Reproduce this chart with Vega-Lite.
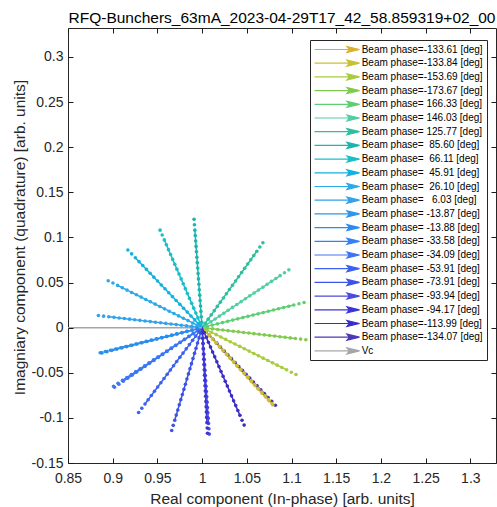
{
"$schema": "https://vega.github.io/schema/vega-lite/v6.json",
"autosize": {"type": "none"},
"padding": {"left": 68, "top": 28, "right": 1, "bottom": 44},
"width": 428,
"height": 435,
"title": {"text": "RFQ-Bunchers_63mA_2023-04-29T17_42_58.859319+02_00", "fontSize": 15.5, "fontWeight": "normal", "font": "Liberation Sans", "color": "black", "anchor": "middle", "offset": 1.5},
"datasets": {
"lab": [
{"s":"A","label":"Beam phase=-133.61 [deg]"},
{"s":"B","label":"Beam phase=-133.84 [deg]"},
{"s":"C","label":"Beam phase=-153.69 [deg]"},
{"s":"D","label":"Beam phase=-173.67 [deg]"},
{"s":"E","label":"Beam phase= 166.33 [deg]"},
{"s":"F","label":"Beam phase= 146.03 [deg]"},
{"s":"G","label":"Beam phase= 125.77 [deg]"},
{"s":"H","label":"Beam phase=\u00a0 85.60 [deg]"},
{"s":"I","label":"Beam phase=\u00a0 66.11 [deg]"},
{"s":"J","label":"Beam phase=\u00a0 45.91 [deg]"},
{"s":"K","label":"Beam phase=\u00a0 26.10 [deg]"},
{"s":"L","label":"Beam phase=\u00a0\u00a0 6.03 [deg]"},
{"s":"M","label":"Beam phase= -13.87 [deg]"},
{"s":"N","label":"Beam phase= -13.88 [deg]"},
{"s":"O","label":"Beam phase= -33.58 [deg]"},
{"s":"P","label":"Beam phase= -34.09 [deg]"},
{"s":"Q","label":"Beam phase= -53.91 [deg]"},
{"s":"R","label":"Beam phase= -73.91 [deg]"},
{"s":"S","label":"Beam phase= -93.94 [deg]"},
{"s":"T","label":"Beam phase= -94.17 [deg]"},
{"s":"U","label":"Beam phase=-113.99 [deg]"},
{"s":"V","label":"Beam phase=-134.07 [deg]"},
{"s":"W","label":"Vc"}
],
"pts": [
{"s":"V","k":0,"x":1,"y":0},{"s":"V","k":1,"x":1.0041,"y":-0.0043},{"s":"V","k":2,"x":1.0082,"y":-0.0086},{"s":"V","k":3,"x":1.0123,"y":-0.0129},{"s":"V","k":4,"x":1.0164,"y":-0.0172},{"s":"V","k":5,"x":1.0205,"y":-0.0215},{"s":"V","k":6,"x":1.0246,"y":-0.0258},{"s":"V","k":7,"x":1.0287,"y":-0.0301},{"s":"V","k":8,"x":1.0328,"y":-0.0344},{"s":"V","k":9,"x":1.0369,"y":-0.0387},{"s":"V","k":10,"x":1.041,"y":-0.043},{"s":"V","k":11,"x":1.0451,"y":-0.0473},{"s":"V","k":12,"x":1.0492,"y":-0.0516},{"s":"V","k":13,"x":1.0533,"y":-0.0559},{"s":"V","k":14,"x":1.0574,"y":-0.0602},{"s":"V","k":15,"x":1.0615,"y":-0.0645},{"s":"V","k":16,"x":1.0656,"y":-0.0688},{"s":"V","k":17,"x":1.0697,"y":-0.0731},{"s":"V","k":18,"x":1.0738,"y":-0.0774},{"s":"V","k":19,"x":1.0779,"y":-0.0817},{"s":"V","k":20,"x":1.082,"y":-0.086},
{"s":"A","k":0,"x":1,"y":0},{"s":"A","k":1,"x":1.00395,"y":-0.00427},{"s":"A","k":2,"x":1.0079,"y":-0.00854},{"s":"A","k":3,"x":1.01185,"y":-0.01281},{"s":"A","k":4,"x":1.0158,"y":-0.01708},{"s":"A","k":5,"x":1.01975,"y":-0.02135},{"s":"A","k":6,"x":1.0237,"y":-0.02562},{"s":"A","k":7,"x":1.02765,"y":-0.02989},{"s":"A","k":8,"x":1.0316,"y":-0.03416},{"s":"A","k":9,"x":1.03555,"y":-0.03843},{"s":"A","k":10,"x":1.0395,"y":-0.0427},{"s":"A","k":11,"x":1.04345,"y":-0.04697},{"s":"A","k":12,"x":1.0474,"y":-0.05124},{"s":"A","k":13,"x":1.05135,"y":-0.05551},{"s":"A","k":14,"x":1.0553,"y":-0.05978},{"s":"A","k":15,"x":1.05925,"y":-0.06405},{"s":"A","k":16,"x":1.0632,"y":-0.06832},{"s":"A","k":17,"x":1.06715,"y":-0.07259},{"s":"A","k":18,"x":1.0711,"y":-0.07686},{"s":"A","k":19,"x":1.07505,"y":-0.08113},{"s":"A","k":20,"x":1.079,"y":-0.0854},
{"s":"B","k":0,"x":1,"y":0},{"s":"B","k":1,"x":1.0039,"y":-0.0042},{"s":"B","k":2,"x":1.0078,"y":-0.0084},{"s":"B","k":3,"x":1.0117,"y":-0.0126},{"s":"B","k":4,"x":1.0156,"y":-0.0168},{"s":"B","k":5,"x":1.0195,"y":-0.021},{"s":"B","k":6,"x":1.0234,"y":-0.0252},{"s":"B","k":7,"x":1.0273,"y":-0.0294},{"s":"B","k":8,"x":1.0312,"y":-0.0336},{"s":"B","k":9,"x":1.0351,"y":-0.0378},{"s":"B","k":10,"x":1.039,"y":-0.042},{"s":"B","k":11,"x":1.0429,"y":-0.0462},{"s":"B","k":12,"x":1.0468,"y":-0.0504},{"s":"B","k":13,"x":1.0507,"y":-0.0546},{"s":"B","k":14,"x":1.0546,"y":-0.0588},{"s":"B","k":15,"x":1.0585,"y":-0.063},{"s":"B","k":16,"x":1.0624,"y":-0.0672},{"s":"B","k":17,"x":1.0663,"y":-0.0714},{"s":"B","k":18,"x":1.0702,"y":-0.0756},{"s":"B","k":19,"x":1.0741,"y":-0.0798},{"s":"B","k":20,"x":1.078,"y":-0.084},
{"s":"C","k":0,"x":1,"y":0},{"s":"C","k":1,"x":1.00525,"y":-0.0026},{"s":"C","k":2,"x":1.0105,"y":-0.0052},{"s":"C","k":3,"x":1.01575,"y":-0.0078},{"s":"C","k":4,"x":1.021,"y":-0.0104},{"s":"C","k":5,"x":1.02625,"y":-0.013},{"s":"C","k":6,"x":1.0315,"y":-0.0156},{"s":"C","k":7,"x":1.03675,"y":-0.0182},{"s":"C","k":8,"x":1.042,"y":-0.0208},{"s":"C","k":9,"x":1.04725,"y":-0.0234},{"s":"C","k":10,"x":1.0525,"y":-0.026},{"s":"C","k":11,"x":1.05775,"y":-0.0286},{"s":"C","k":12,"x":1.063,"y":-0.0312},{"s":"C","k":13,"x":1.06825,"y":-0.0338},{"s":"C","k":14,"x":1.0735,"y":-0.0364},{"s":"C","k":15,"x":1.07875,"y":-0.039},{"s":"C","k":16,"x":1.084,"y":-0.0416},{"s":"C","k":17,"x":1.08925,"y":-0.0442},{"s":"C","k":18,"x":1.0945,"y":-0.0468},{"s":"C","k":19,"x":1.09975,"y":-0.0494},{"s":"C","k":20,"x":1.105,"y":-0.052},
{"s":"D","k":0,"x":1,"y":0},{"s":"D","k":1,"x":1.0058,"y":-0.00067},{"s":"D","k":2,"x":1.0116,"y":-0.00134},{"s":"D","k":3,"x":1.0174,"y":-0.00201},{"s":"D","k":4,"x":1.0232,"y":-0.00268},{"s":"D","k":5,"x":1.029,"y":-0.00335},{"s":"D","k":6,"x":1.0348,"y":-0.00402},{"s":"D","k":7,"x":1.0406,"y":-0.00469},{"s":"D","k":8,"x":1.0464,"y":-0.00536},{"s":"D","k":9,"x":1.0522,"y":-0.00603},{"s":"D","k":10,"x":1.058,"y":-0.0067},{"s":"D","k":11,"x":1.0638,"y":-0.00737},{"s":"D","k":12,"x":1.0696,"y":-0.00804},{"s":"D","k":13,"x":1.0754,"y":-0.00871},{"s":"D","k":14,"x":1.0812,"y":-0.00938},{"s":"D","k":15,"x":1.087,"y":-0.01005},{"s":"D","k":16,"x":1.0928,"y":-0.01072},{"s":"D","k":17,"x":1.0986,"y":-0.01139},{"s":"D","k":18,"x":1.1044,"y":-0.01206},{"s":"D","k":19,"x":1.1102,"y":-0.01273},{"s":"D","k":20,"x":1.116,"y":-0.0134},
{"s":"E","k":0,"x":1,"y":0},{"s":"E","k":1,"x":1.0057,"y":0.00139},{"s":"E","k":2,"x":1.0114,"y":0.00278},{"s":"E","k":3,"x":1.0171,"y":0.00417},{"s":"E","k":4,"x":1.0228,"y":0.00556},{"s":"E","k":5,"x":1.0285,"y":0.00695},{"s":"E","k":6,"x":1.0342,"y":0.00834},{"s":"E","k":7,"x":1.0399,"y":0.00973},{"s":"E","k":8,"x":1.0456,"y":0.01112},{"s":"E","k":9,"x":1.0513,"y":0.01251},{"s":"E","k":10,"x":1.057,"y":0.0139},{"s":"E","k":11,"x":1.0627,"y":0.01529},{"s":"E","k":12,"x":1.0684,"y":0.01668},{"s":"E","k":13,"x":1.0741,"y":0.01807},{"s":"E","k":14,"x":1.0798,"y":0.01946},{"s":"E","k":15,"x":1.0855,"y":0.02085},{"s":"E","k":16,"x":1.0912,"y":0.02224},{"s":"E","k":17,"x":1.0969,"y":0.02363},{"s":"E","k":18,"x":1.1026,"y":0.02502},{"s":"E","k":19,"x":1.1083,"y":0.02641},{"s":"E","k":20,"x":1.114,"y":0.0278},
{"s":"F","k":0,"x":1,"y":0},{"s":"F","k":1,"x":1.00485,"y":0.0032},{"s":"F","k":2,"x":1.0097,"y":0.0064},{"s":"F","k":3,"x":1.01455,"y":0.0096},{"s":"F","k":4,"x":1.0194,"y":0.0128},{"s":"F","k":5,"x":1.02425,"y":0.016},{"s":"F","k":6,"x":1.0291,"y":0.0192},{"s":"F","k":7,"x":1.03395,"y":0.0224},{"s":"F","k":8,"x":1.0388,"y":0.0256},{"s":"F","k":9,"x":1.04365,"y":0.0288},{"s":"F","k":10,"x":1.0485,"y":0.032},{"s":"F","k":11,"x":1.05335,"y":0.0352},{"s":"F","k":12,"x":1.0582,"y":0.0384},{"s":"F","k":13,"x":1.06305,"y":0.0416},{"s":"F","k":14,"x":1.0679,"y":0.0448},{"s":"F","k":15,"x":1.07275,"y":0.048},{"s":"F","k":16,"x":1.0776,"y":0.0512},{"s":"F","k":17,"x":1.08245,"y":0.0544},{"s":"F","k":18,"x":1.0873,"y":0.0576},{"s":"F","k":19,"x":1.09215,"y":0.0608},{"s":"F","k":20,"x":1.097,"y":0.064},
{"s":"G","k":0,"x":1,"y":0},{"s":"G","k":1,"x":1.0034,"y":0.0047},{"s":"G","k":2,"x":1.0068,"y":0.0094},{"s":"G","k":3,"x":1.0102,"y":0.0141},{"s":"G","k":4,"x":1.0136,"y":0.0188},{"s":"G","k":5,"x":1.017,"y":0.0235},{"s":"G","k":6,"x":1.0204,"y":0.0282},{"s":"G","k":7,"x":1.0238,"y":0.0329},{"s":"G","k":8,"x":1.0272,"y":0.0376},{"s":"G","k":9,"x":1.0306,"y":0.0423},{"s":"G","k":10,"x":1.034,"y":0.047},{"s":"G","k":11,"x":1.0374,"y":0.0517},{"s":"G","k":12,"x":1.0408,"y":0.0564},{"s":"G","k":13,"x":1.0442,"y":0.0611},{"s":"G","k":14,"x":1.0476,"y":0.0658},{"s":"G","k":15,"x":1.051,"y":0.0705},{"s":"G","k":16,"x":1.0544,"y":0.0752},{"s":"G","k":17,"x":1.0578,"y":0.0799},{"s":"G","k":18,"x":1.0612,"y":0.0846},{"s":"G","k":19,"x":1.0646,"y":0.0893},{"s":"G","k":20,"x":1.068,"y":0.094},
{"s":"H","k":0,"x":1,"y":0},{"s":"H","k":1,"x":0.99955,"y":0.006},{"s":"H","k":2,"x":0.9991,"y":0.012},{"s":"H","k":3,"x":0.99865,"y":0.018},{"s":"H","k":4,"x":0.9982,"y":0.024},{"s":"H","k":5,"x":0.99775,"y":0.03},{"s":"H","k":6,"x":0.9973,"y":0.036},{"s":"H","k":7,"x":0.99685,"y":0.042},{"s":"H","k":8,"x":0.9964,"y":0.048},{"s":"H","k":9,"x":0.99595,"y":0.054},{"s":"H","k":10,"x":0.9955,"y":0.06},{"s":"H","k":11,"x":0.99505,"y":0.066},{"s":"H","k":12,"x":0.9946,"y":0.072},{"s":"H","k":13,"x":0.99415,"y":0.078},{"s":"H","k":14,"x":0.9937,"y":0.084},{"s":"H","k":15,"x":0.99325,"y":0.09},{"s":"H","k":16,"x":0.9928,"y":0.096},{"s":"H","k":17,"x":0.99235,"y":0.102},{"s":"H","k":18,"x":0.9919,"y":0.108},{"s":"H","k":19,"x":0.99145,"y":0.114},{"s":"H","k":20,"x":0.991,"y":0.12},
{"s":"I","k":0,"x":1,"y":0},{"s":"I","k":1,"x":0.99765,"y":0.0054},{"s":"I","k":2,"x":0.9953,"y":0.0108},{"s":"I","k":3,"x":0.99295,"y":0.0162},{"s":"I","k":4,"x":0.9906,"y":0.0216},{"s":"I","k":5,"x":0.98825,"y":0.027},{"s":"I","k":6,"x":0.9859,"y":0.0324},{"s":"I","k":7,"x":0.98355,"y":0.0378},{"s":"I","k":8,"x":0.9812,"y":0.0432},{"s":"I","k":9,"x":0.97885,"y":0.0486},{"s":"I","k":10,"x":0.9765,"y":0.054},{"s":"I","k":11,"x":0.97415,"y":0.0594},{"s":"I","k":12,"x":0.9718,"y":0.0648},{"s":"I","k":13,"x":0.96945,"y":0.0702},{"s":"I","k":14,"x":0.9671,"y":0.0756},{"s":"I","k":15,"x":0.96475,"y":0.081},{"s":"I","k":16,"x":0.9624,"y":0.0864},{"s":"I","k":17,"x":0.96005,"y":0.0918},{"s":"I","k":18,"x":0.9577,"y":0.0972},{"s":"I","k":19,"x":0.95535,"y":0.1026},{"s":"I","k":20,"x":0.953,"y":0.108},
{"s":"J","k":0,"x":1,"y":0},{"s":"J","k":1,"x":0.99585,"y":0.0043},{"s":"J","k":2,"x":0.9917,"y":0.0086},{"s":"J","k":3,"x":0.98755,"y":0.0129},{"s":"J","k":4,"x":0.9834,"y":0.0172},{"s":"J","k":5,"x":0.97925,"y":0.0215},{"s":"J","k":6,"x":0.9751,"y":0.0258},{"s":"J","k":7,"x":0.97095,"y":0.0301},{"s":"J","k":8,"x":0.9668,"y":0.0344},{"s":"J","k":9,"x":0.96265,"y":0.0387},{"s":"J","k":10,"x":0.9585,"y":0.043},{"s":"J","k":11,"x":0.95435,"y":0.0473},{"s":"J","k":12,"x":0.9502,"y":0.0516},{"s":"J","k":13,"x":0.94605,"y":0.0559},{"s":"J","k":14,"x":0.9419,"y":0.0602},{"s":"J","k":15,"x":0.93775,"y":0.0645},{"s":"J","k":16,"x":0.9336,"y":0.0688},{"s":"J","k":17,"x":0.92945,"y":0.0731},{"s":"J","k":18,"x":0.9253,"y":0.0774},{"s":"J","k":19,"x":0.92115,"y":0.0817},{"s":"J","k":20,"x":0.917,"y":0.086},
{"s":"K","k":0,"x":1,"y":0},{"s":"K","k":1,"x":0.99475,"y":0.0026},{"s":"K","k":2,"x":0.9895,"y":0.0052},{"s":"K","k":3,"x":0.98425,"y":0.0078},{"s":"K","k":4,"x":0.979,"y":0.0104},{"s":"K","k":5,"x":0.97375,"y":0.013},{"s":"K","k":6,"x":0.9685,"y":0.0156},{"s":"K","k":7,"x":0.96325,"y":0.0182},{"s":"K","k":8,"x":0.958,"y":0.0208},{"s":"K","k":9,"x":0.95275,"y":0.0234},{"s":"K","k":10,"x":0.9475,"y":0.026},{"s":"K","k":11,"x":0.94225,"y":0.0286},{"s":"K","k":12,"x":0.937,"y":0.0312},{"s":"K","k":13,"x":0.93175,"y":0.0338},{"s":"K","k":14,"x":0.9265,"y":0.0364},{"s":"K","k":15,"x":0.92125,"y":0.039},{"s":"K","k":16,"x":0.916,"y":0.0416},{"s":"K","k":17,"x":0.91075,"y":0.0442},{"s":"K","k":18,"x":0.9055,"y":0.0468},{"s":"K","k":19,"x":0.90025,"y":0.0494},{"s":"K","k":20,"x":0.895,"y":0.052},
{"s":"L","k":0,"x":1,"y":0},{"s":"L","k":1,"x":0.9942,"y":0.00067},{"s":"L","k":2,"x":0.9884,"y":0.00134},{"s":"L","k":3,"x":0.9826,"y":0.00201},{"s":"L","k":4,"x":0.9768,"y":0.00268},{"s":"L","k":5,"x":0.971,"y":0.00335},{"s":"L","k":6,"x":0.9652,"y":0.00402},{"s":"L","k":7,"x":0.9594,"y":0.00469},{"s":"L","k":8,"x":0.9536,"y":0.00536},{"s":"L","k":9,"x":0.9478,"y":0.00603},{"s":"L","k":10,"x":0.942,"y":0.0067},{"s":"L","k":11,"x":0.9362,"y":0.00737},{"s":"L","k":12,"x":0.9304,"y":0.00804},{"s":"L","k":13,"x":0.9246,"y":0.00871},{"s":"L","k":14,"x":0.9188,"y":0.00938},{"s":"L","k":15,"x":0.913,"y":0.01005},{"s":"L","k":16,"x":0.9072,"y":0.01072},{"s":"L","k":17,"x":0.9014,"y":0.01139},{"s":"L","k":18,"x":0.8956,"y":0.01206},{"s":"L","k":19,"x":0.8898,"y":0.01273},{"s":"L","k":20,"x":0.884,"y":0.0134},
{"s":"M","k":0,"x":1,"y":0},{"s":"M","k":1,"x":0.9943,"y":-0.00139},{"s":"M","k":2,"x":0.9886,"y":-0.00278},{"s":"M","k":3,"x":0.9829,"y":-0.00417},{"s":"M","k":4,"x":0.9772,"y":-0.00556},{"s":"M","k":5,"x":0.9715,"y":-0.00695},{"s":"M","k":6,"x":0.9658,"y":-0.00834},{"s":"M","k":7,"x":0.9601,"y":-0.00973},{"s":"M","k":8,"x":0.9544,"y":-0.01112},{"s":"M","k":9,"x":0.9487,"y":-0.01251},{"s":"M","k":10,"x":0.943,"y":-0.0139},{"s":"M","k":11,"x":0.9373,"y":-0.01529},{"s":"M","k":12,"x":0.9316,"y":-0.01668},{"s":"M","k":13,"x":0.9259,"y":-0.01807},{"s":"M","k":14,"x":0.9202,"y":-0.01946},{"s":"M","k":15,"x":0.9145,"y":-0.02085},{"s":"M","k":16,"x":0.9088,"y":-0.02224},{"s":"M","k":17,"x":0.9031,"y":-0.02363},{"s":"M","k":18,"x":0.8974,"y":-0.02502},{"s":"M","k":19,"x":0.8917,"y":-0.02641},{"s":"M","k":20,"x":0.886,"y":-0.0278},
{"s":"N","k":0,"x":1,"y":0},{"s":"N","k":1,"x":0.9944,"y":-0.0014},{"s":"N","k":2,"x":0.9888,"y":-0.0028},{"s":"N","k":3,"x":0.9832,"y":-0.0042},{"s":"N","k":4,"x":0.9776,"y":-0.0056},{"s":"N","k":5,"x":0.972,"y":-0.007},{"s":"N","k":6,"x":0.9664,"y":-0.0084},{"s":"N","k":7,"x":0.9608,"y":-0.0098},{"s":"N","k":8,"x":0.9552,"y":-0.0112},{"s":"N","k":9,"x":0.9496,"y":-0.0126},{"s":"N","k":10,"x":0.944,"y":-0.014},{"s":"N","k":11,"x":0.9384,"y":-0.0154},{"s":"N","k":12,"x":0.9328,"y":-0.0168},{"s":"N","k":13,"x":0.9272,"y":-0.0182},{"s":"N","k":14,"x":0.9216,"y":-0.0196},{"s":"N","k":15,"x":0.916,"y":-0.021},{"s":"N","k":16,"x":0.9104,"y":-0.0224},{"s":"N","k":17,"x":0.9048,"y":-0.0238},{"s":"N","k":18,"x":0.8992,"y":-0.0252},{"s":"N","k":19,"x":0.8936,"y":-0.0266},{"s":"N","k":20,"x":0.888,"y":-0.028},
{"s":"O","k":0,"x":1,"y":0},{"s":"O","k":1,"x":0.99505,"y":-0.00325},{"s":"O","k":2,"x":0.9901,"y":-0.0065},{"s":"O","k":3,"x":0.98515,"y":-0.00975},{"s":"O","k":4,"x":0.9802,"y":-0.013},{"s":"O","k":5,"x":0.97525,"y":-0.01625},{"s":"O","k":6,"x":0.9703,"y":-0.0195},{"s":"O","k":7,"x":0.96535,"y":-0.02275},{"s":"O","k":8,"x":0.9604,"y":-0.026},{"s":"O","k":9,"x":0.95545,"y":-0.02925},{"s":"O","k":10,"x":0.9505,"y":-0.0325},{"s":"O","k":11,"x":0.94555,"y":-0.03575},{"s":"O","k":12,"x":0.9406,"y":-0.039},{"s":"O","k":13,"x":0.93565,"y":-0.04225},{"s":"O","k":14,"x":0.9307,"y":-0.0455},{"s":"O","k":15,"x":0.92575,"y":-0.04875},{"s":"O","k":16,"x":0.9208,"y":-0.052},{"s":"O","k":17,"x":0.91585,"y":-0.05525},{"s":"O","k":18,"x":0.9109,"y":-0.0585},{"s":"O","k":19,"x":0.90595,"y":-0.06175},{"s":"O","k":20,"x":0.901,"y":-0.065},
{"s":"P","k":0,"x":1,"y":0},{"s":"P","k":1,"x":0.9951,"y":-0.0033},{"s":"P","k":2,"x":0.9902,"y":-0.0066},{"s":"P","k":3,"x":0.9853,"y":-0.0099},{"s":"P","k":4,"x":0.9804,"y":-0.0132},{"s":"P","k":5,"x":0.9755,"y":-0.0165},{"s":"P","k":6,"x":0.9706,"y":-0.0198},{"s":"P","k":7,"x":0.9657,"y":-0.0231},{"s":"P","k":8,"x":0.9608,"y":-0.0264},{"s":"P","k":9,"x":0.9559,"y":-0.0297},{"s":"P","k":10,"x":0.951,"y":-0.033},{"s":"P","k":11,"x":0.9461,"y":-0.0363},{"s":"P","k":12,"x":0.9412,"y":-0.0396},{"s":"P","k":13,"x":0.9363,"y":-0.0429},{"s":"P","k":14,"x":0.9314,"y":-0.0462},{"s":"P","k":15,"x":0.9265,"y":-0.0495},{"s":"P","k":16,"x":0.9216,"y":-0.0528},{"s":"P","k":17,"x":0.9167,"y":-0.0561},{"s":"P","k":18,"x":0.9118,"y":-0.0594},{"s":"P","k":19,"x":0.9069,"y":-0.0627},{"s":"P","k":20,"x":0.902,"y":-0.066},
{"s":"Q","k":0,"x":1,"y":0},{"s":"Q","k":1,"x":0.99645,"y":-0.0047},{"s":"Q","k":2,"x":0.9929,"y":-0.0094},{"s":"Q","k":3,"x":0.98935,"y":-0.0141},{"s":"Q","k":4,"x":0.9858,"y":-0.0188},{"s":"Q","k":5,"x":0.98225,"y":-0.0235},{"s":"Q","k":6,"x":0.9787,"y":-0.0282},{"s":"Q","k":7,"x":0.97515,"y":-0.0329},{"s":"Q","k":8,"x":0.9716,"y":-0.0376},{"s":"Q","k":9,"x":0.96805,"y":-0.0423},{"s":"Q","k":10,"x":0.9645,"y":-0.047},{"s":"Q","k":11,"x":0.96095,"y":-0.0517},{"s":"Q","k":12,"x":0.9574,"y":-0.0564},{"s":"Q","k":13,"x":0.95385,"y":-0.0611},{"s":"Q","k":14,"x":0.9503,"y":-0.0658},{"s":"Q","k":15,"x":0.94675,"y":-0.0705},{"s":"Q","k":16,"x":0.9432,"y":-0.0752},{"s":"Q","k":17,"x":0.93965,"y":-0.0799},{"s":"Q","k":18,"x":0.9361,"y":-0.0846},{"s":"Q","k":19,"x":0.93255,"y":-0.0893},{"s":"Q","k":20,"x":0.929,"y":-0.094},
{"s":"R","k":0,"x":1,"y":0},{"s":"R","k":1,"x":0.9983,"y":-0.0057},{"s":"R","k":2,"x":0.9966,"y":-0.0114},{"s":"R","k":3,"x":0.9949,"y":-0.0171},{"s":"R","k":4,"x":0.9932,"y":-0.0228},{"s":"R","k":5,"x":0.9915,"y":-0.0285},{"s":"R","k":6,"x":0.9898,"y":-0.0342},{"s":"R","k":7,"x":0.9881,"y":-0.0399},{"s":"R","k":8,"x":0.9864,"y":-0.0456},{"s":"R","k":9,"x":0.9847,"y":-0.0513},{"s":"R","k":10,"x":0.983,"y":-0.057},{"s":"R","k":11,"x":0.9813,"y":-0.0627},{"s":"R","k":12,"x":0.9796,"y":-0.0684},{"s":"R","k":13,"x":0.9779,"y":-0.0741},{"s":"R","k":14,"x":0.9762,"y":-0.0798},{"s":"R","k":15,"x":0.9745,"y":-0.0855},{"s":"R","k":16,"x":0.9728,"y":-0.0912},{"s":"R","k":17,"x":0.9711,"y":-0.0969},{"s":"R","k":18,"x":0.9694,"y":-0.1026},{"s":"R","k":19,"x":0.9677,"y":-0.1083},{"s":"R","k":20,"x":0.966,"y":-0.114},
{"s":"S","k":0,"x":1,"y":0},{"s":"S","k":1,"x":1.0004,"y":-0.0059},{"s":"S","k":2,"x":1.0008,"y":-0.0118},{"s":"S","k":3,"x":1.0012,"y":-0.0177},{"s":"S","k":4,"x":1.0016,"y":-0.0236},{"s":"S","k":5,"x":1.002,"y":-0.0295},{"s":"S","k":6,"x":1.0024,"y":-0.0354},{"s":"S","k":7,"x":1.0028,"y":-0.0413},{"s":"S","k":8,"x":1.0032,"y":-0.0472},{"s":"S","k":9,"x":1.0036,"y":-0.0531},{"s":"S","k":10,"x":1.004,"y":-0.059},{"s":"S","k":11,"x":1.0044,"y":-0.0649},{"s":"S","k":12,"x":1.0048,"y":-0.0708},{"s":"S","k":13,"x":1.0052,"y":-0.0767},{"s":"S","k":14,"x":1.0056,"y":-0.0826},{"s":"S","k":15,"x":1.006,"y":-0.0885},{"s":"S","k":16,"x":1.0064,"y":-0.0944},{"s":"S","k":17,"x":1.0068,"y":-0.1003},{"s":"S","k":18,"x":1.0072,"y":-0.1062},{"s":"S","k":19,"x":1.0076,"y":-0.1121},{"s":"S","k":20,"x":1.008,"y":-0.118},
{"s":"T","k":0,"x":1,"y":0},{"s":"T","k":1,"x":1.0003,"y":-0.00585},{"s":"T","k":2,"x":1.0006,"y":-0.0117},{"s":"T","k":3,"x":1.0009,"y":-0.01755},{"s":"T","k":4,"x":1.0012,"y":-0.0234},{"s":"T","k":5,"x":1.0015,"y":-0.02925},{"s":"T","k":6,"x":1.0018,"y":-0.0351},{"s":"T","k":7,"x":1.0021,"y":-0.04095},{"s":"T","k":8,"x":1.0024,"y":-0.0468},{"s":"T","k":9,"x":1.0027,"y":-0.05265},{"s":"T","k":10,"x":1.003,"y":-0.0585},{"s":"T","k":11,"x":1.0033,"y":-0.06435},{"s":"T","k":12,"x":1.0036,"y":-0.0702},{"s":"T","k":13,"x":1.0039,"y":-0.07605},{"s":"T","k":14,"x":1.0042,"y":-0.0819},{"s":"T","k":15,"x":1.0045,"y":-0.08775},{"s":"T","k":16,"x":1.0048,"y":-0.0936},{"s":"T","k":17,"x":1.0051,"y":-0.09945},{"s":"T","k":18,"x":1.0054,"y":-0.1053},{"s":"T","k":19,"x":1.0057,"y":-0.11115},{"s":"T","k":20,"x":1.006,"y":-0.117},
{"s":"U","k":0,"x":1,"y":0},{"s":"U","k":1,"x":1.00235,"y":-0.0054},{"s":"U","k":2,"x":1.0047,"y":-0.0108},{"s":"U","k":3,"x":1.00705,"y":-0.0162},{"s":"U","k":4,"x":1.0094,"y":-0.0216},{"s":"U","k":5,"x":1.01175,"y":-0.027},{"s":"U","k":6,"x":1.0141,"y":-0.0324},{"s":"U","k":7,"x":1.01645,"y":-0.0378},{"s":"U","k":8,"x":1.0188,"y":-0.0432},{"s":"U","k":9,"x":1.02115,"y":-0.0486},{"s":"U","k":10,"x":1.0235,"y":-0.054},{"s":"U","k":11,"x":1.02585,"y":-0.0594},{"s":"U","k":12,"x":1.0282,"y":-0.0648},{"s":"U","k":13,"x":1.03055,"y":-0.0702},{"s":"U","k":14,"x":1.0329,"y":-0.0756},{"s":"U","k":15,"x":1.03525,"y":-0.081},{"s":"U","k":16,"x":1.0376,"y":-0.0864},{"s":"U","k":17,"x":1.03995,"y":-0.0918},{"s":"U","k":18,"x":1.0423,"y":-0.0972},{"s":"U","k":19,"x":1.04465,"y":-0.1026},{"s":"U","k":20,"x":1.047,"y":-0.108},
{"s":"W","k":0,"x":0,"y":0},{"s":"W","k":1,"x":1,"y":0}
]
},
"data": {"name": "pts"},
"transform": [{"lookup": "s", "from": {"data": {"name": "lab"}, "key": "s", "fields": ["label"]}}],
"layer": [
{
"transform": [{"filter": "datum.k <= 18"}],
"mark": {"type": "line", "clip": true, "strokeWidth": 1.5},
"encoding": {
"x": {"field": "x", "type": "quantitative", "scale": {"domain": [0.85, 1.3287], "nice": false, "zero": false},
"axis": {"orient": "bottom", "values": [0.85, 0.9, 0.95, 1, 1.05, 1.1, 1.15, 1.2, 1.25, 1.3], "labelExpr": "'' + datum.value", "title": "Real component (In-phase) [arb. units]", "labelPadding": 8, "titlePadding": 6, "ticks": true, "tickSize": 5, "tickColor": "#1a1a1a", "tickWidth": 1, "tickOpacity": 1, "offset": -5, "zindex": 2}},
"y": {"field": "y", "type": "quantitative", "scale": {"domain": [-0.15, 0.332], "nice": false, "zero": false},
"axis": {"orient": "left", "values": [-0.15, -0.1, -0.05, 0, 0.05, 0.1, 0.15, 0.2, 0.25, 0.3], "labelExpr": "'' + datum.value", "title": "Imagniary component (quadrature) [arb. units]", "labelPadding": 5, "titlePadding": 4, "titleY": 209, "ticks": true, "tickSize": 5, "tickColor": "#1a1a1a", "tickWidth": 1, "tickOpacity": 1, "offset": -5, "zindex": 2}},
"color": {"field": "label", "type": "nominal",
"scale": {"domain": ["Beam phase=-133.61 [deg]","Beam phase=-133.84 [deg]","Beam phase=-153.69 [deg]","Beam phase=-173.67 [deg]","Beam phase= 166.33 [deg]","Beam phase= 146.03 [deg]","Beam phase= 125.77 [deg]","Beam phase=\u00a0 85.60 [deg]","Beam phase=\u00a0 66.11 [deg]","Beam phase=\u00a0 45.91 [deg]","Beam phase=\u00a0 26.10 [deg]","Beam phase=\u00a0\u00a0 6.03 [deg]","Beam phase= -13.87 [deg]","Beam phase= -13.88 [deg]","Beam phase= -33.58 [deg]","Beam phase= -34.09 [deg]","Beam phase= -53.91 [deg]","Beam phase= -73.91 [deg]","Beam phase= -93.94 [deg]","Beam phase= -94.17 [deg]","Beam phase=-113.99 [deg]","Beam phase=-134.07 [deg]","Vc"],
"range": ["#d8b12c","#c9c133","#a9cc3f","#80cb4e","#5ccf72","#52cfa0","#2ebf9e","#1db5ab","#1abfc6","#12b1e0","#2aaae8","#33a2ea","#2b97ee","#2b8bf0","#3480f4","#3f74f2","#3b62ef","#3c52e8","#4a4ae0","#3b35d6","#3b2dc6","#4a3ab8","#a6a6a6"]},
"legend": {"orient": "none", "legendX": 242, "legendY": 12, "title": null, "symbolType": "M-4.5,0L4.3,0M2,-0.6L4.5,0L2,0.6L2.5,0Z", "symbolSize": 100, "symbolOffset": 17.5, "symbolStrokeWidth": 1.2, "labelOffset": 18.7, "rowPadding": 1.7, "padding": 3.5,
"encode": {"symbols": {"update": {"fill": {"scale": "color", "field": "value"}, "stroke": {"scale": "color", "field": "value"}}}}}},
"order": {"field": "k", "type": "quantitative"}
}
},
{
"transform": [{"filter": "datum.k > 0 && datum.s != 'W'"}],
"mark": {"type": "circle", "size": 13, "opacity": 1, "clip": true},
"encoding": {
"x": {"field": "x", "type": "quantitative", "scale": {"domain": [0.85, 1.3287], "nice": false, "zero": false}, "axis": {"orient": "top", "values": [0.85, 0.9, 0.95, 1, 1.05, 1.1, 1.15, 1.2, 1.25, 1.3], "labels": false, "title": null, "ticks": true, "tickSize": 5, "tickColor": "#1a1a1a", "tickWidth": 1, "tickOpacity": 1, "offset": -5, "zindex": 2}},
"y": {"field": "y", "type": "quantitative", "scale": {"domain": [-0.15, 0.332], "nice": false, "zero": false}, "axis": {"orient": "right", "values": [-0.15, -0.1, -0.05, 0, 0.05, 0.1, 0.15, 0.2, 0.25, 0.3], "labels": false, "title": null, "ticks": true, "tickSize": 5, "tickColor": "#1a1a1a", "tickWidth": 1, "tickOpacity": 1, "offset": -5, "zindex": 2}},
"color": {"field": "label", "type": "nominal", "legend": null}
}
}
],
"resolve": {"scale": {"x": "independent", "y": "independent"}, "axis": {"x": "independent", "y": "independent"}},
"config": {
"font": "Liberation Sans",
"view": {"stroke": "#262626", "strokeWidth": 1},
"axis": {"grid": false, "domain": false, "labelFlush": false, "labelOverlap": false, "labelFont": "Liberation Sans", "labelFontSize": 14, "labelColor": "#262626", "titleFont": "Liberation Sans", "titleFontSize": 15.5, "titleFontWeight": "normal", "titleColor": "#262626"},
"legend": {"labelFont": "Liberation Sans", "labelFontSize": 10, "labelColor": "black", "strokeColor": "#262626", "fillColor": "white", "labelLimit": 300}
}
}
